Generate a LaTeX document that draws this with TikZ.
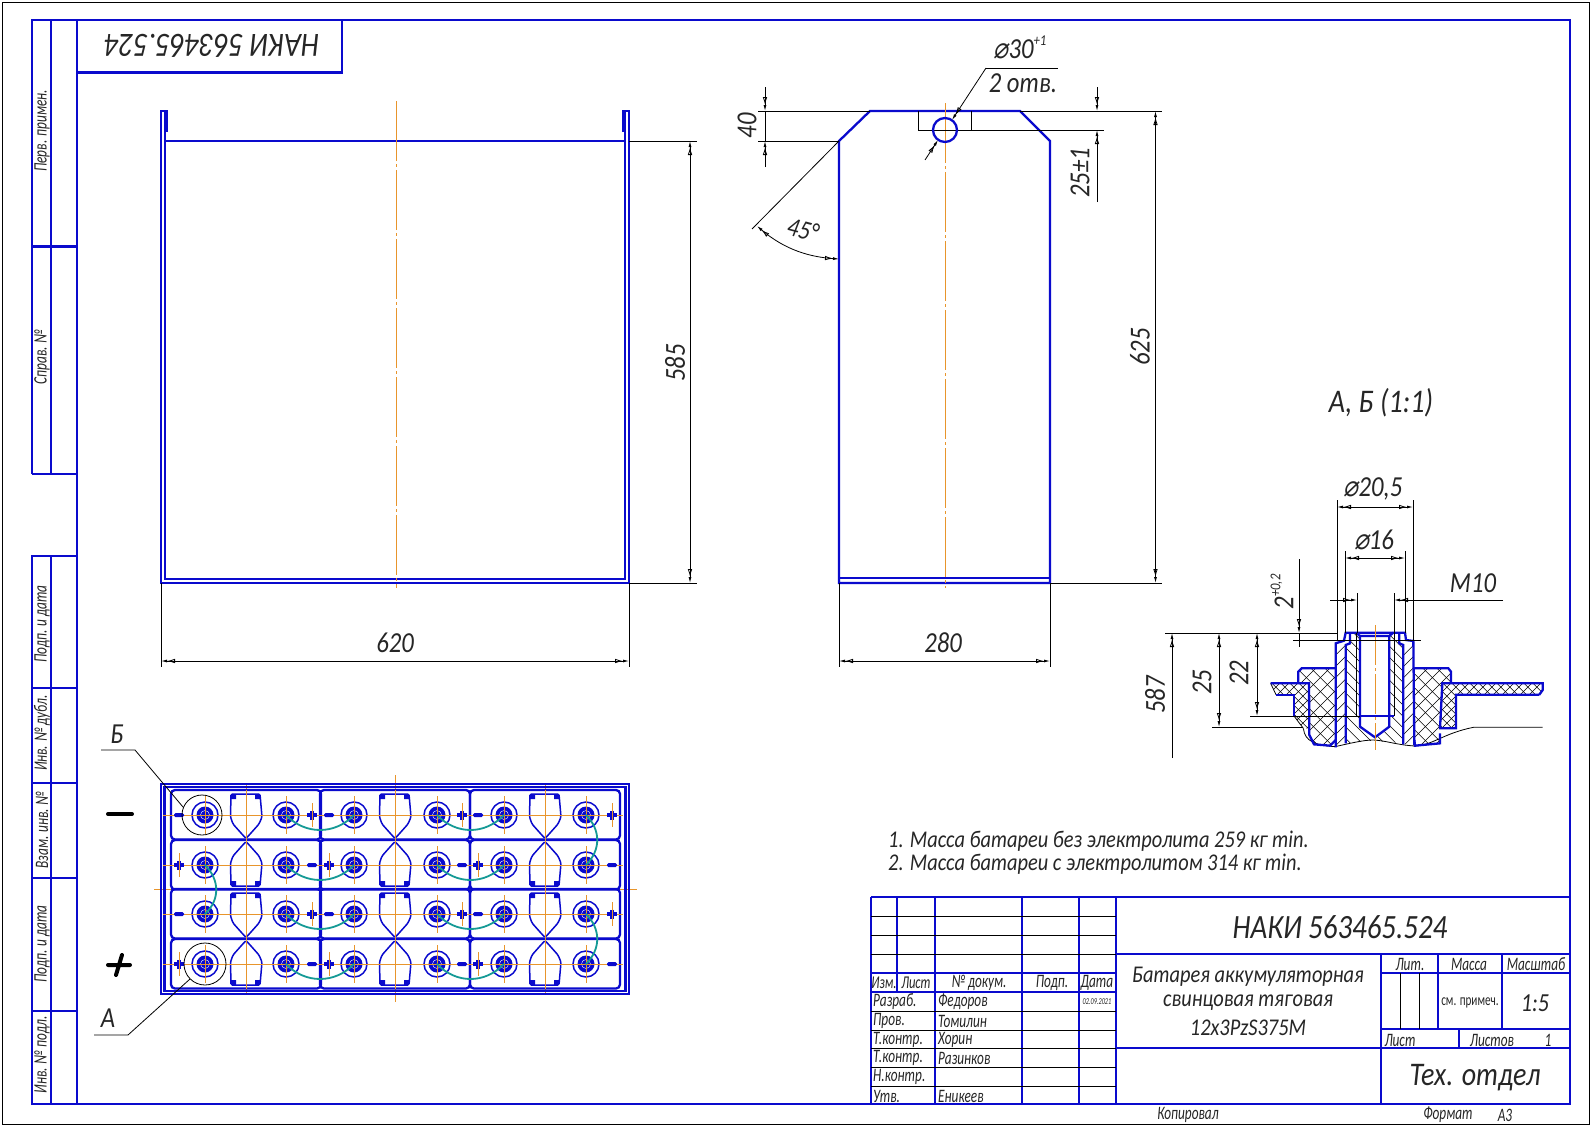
\documentclass[tikz,border=0pt]{standalone}
\usepackage{fontspec}
\setmainfont{Carlito}[FakeStretch=.85]
\newfontfamily\tightcad{Carlito}[FakeStretch=.7]
\newfontfamily\symcad{DejaVu Sans}[FakeSlant=.2,FakeStretch=.85]
\usepackage{tikz}
\usetikzlibrary{arrows.meta,positioning}

\definecolor{cadblue}{HTML}{0A0ACD}
\definecolor{cadaxis}{HTML}{E8952C}
\definecolor{cadteal}{HTML}{159A96}

\newcommand{\dia}{{\symcad\upshape ⌀}}
\newcommand{\supr}[1]{\raisebox{.45em}{\fontsize{15}{15}\selectfont #1}}

\tikzset{
  >={Latex[open,length=8pt,width=4.5pt] Latex[length=6pt,width=3pt]},
  main/.style={draw=cadblue,line width=2.3pt,line join=miter},
  thinb/.style={draw=black,line width=.8pt},
  axis/.style={draw=cadaxis,line width=.8pt},
  axisdash/.style={axis,dash pattern=on 60pt off 3pt on 3pt off 3pt},
  link/.style={draw=cadteal,line width=1.8pt,line cap=round},
  tx/.style={font=\fontsize{#1}{#1}\selectfont\itshape,inner sep=0pt,text=black!85},
  tn/.style={font=\tightcad\fontsize{#1}{#1}\selectfont\itshape,inner sep=0pt,text=black!85},
  dimv/.style={tx=29,rotate=90},
}

% hatching of one closed region of the section, #1 path, #2 spacing
\newcommand{\hatchback}[2]{\begin{scope}\clip #1;
  \foreach \k in {-340,\numexpr-340+#2\relax,...,900} \draw[thinb,line width=.5pt] (\k,0) -- ++(500,500);
  \end{scope}}
\newcommand{\hatchfwd}[2]{\begin{scope}\clip #1;
  \foreach \k in {150,\numexpr150+#2\relax,...,1800} \draw[thinb,line width=.5pt] (\k,0) -- ++(-500,500);
  \end{scope}}

\begin{document}
\begin{tikzpicture}[x=1pt,y=-1pt]
\useasboundingbox[fill=white] (0,0) rectangle (1591,1127);
% sheet
\draw[thinb,line width=1pt] (2.5,2.5) rectangle (1589,1124);
\draw[main] (32,474) -- (32,20) -- (1570,20) -- (1570,1104) -- (32,1104) -- (32,556) -- (77,556);
\draw[main] (77,20) -- (77,1104);
\draw[main] (51,20) -- (51,474) (51,556) -- (51,1104);
\draw[main] (32,246.5) -- (77,246.5) (32,474) -- (77,474);
\foreach \hy in {688,783,878,1011} \draw[main] (32,\hy) -- (77,\hy);
\draw[main] (77,72.5) -- (342,72.5) -- (342,20);
\node[tx=34,rotate=180] (codeflip) at (212,46) {НАКИ 563465.524};
\node[tn=19,rotate=90] (perv) at (42,131) {Перв. примен.};
\node[tn=19,rotate=90] (sprav) at (42,357) {Справ. №};
\node[tn=19,rotate=90] (podp1) at (42,624) {Подп. и дата};
\node[tn=19,rotate=90] (dubl) at (42,733) {Инв. № дубл.};
\node[tn=19,rotate=90] (vzam) at (42,830) {Взам. инв. №};
\node[tn=19,rotate=90] (podp2) at (42,944) {Подп. и дата};
\node[tn=19,rotate=90] (podl) at (42,1055) {Инв. № подл.};

% front view
\draw[main] (161,583) -- (161,111) -- (167,111) -- (167,130.5) -- (165,130.5) -- (165,579) -- (625,579) -- (625,130.5) -- (623,130.5) -- (623,111) -- (629,111) -- (629,583) -- cycle;
\draw[main] (165,111) -- (165,131) (625,111) -- (625,131) (165,141) -- (625,141);
\draw[axisdash] (396,101) -- (396,588);
\draw[thinb] (629,141) -- (697,141) (629,583) -- (697,583) (161,583) -- (161,667) (629,583) -- (629,667);
\draw[thinb,<->] (690,141) -- (690,583);
\draw[thinb,<->] (161,661) -- (629,661);
\node[dimv] (d585) at (675,363) {585};
\node[tx=29] (d620) at (395,643) {620};

% side view
\draw[main] (839,583) -- (839,141) -- (870,111) -- (1020,111) -- (1050,141) -- (1050,583) -- cycle;
\draw[main] (839,578) -- (1050,578);
\draw[axisdash] (945,103) -- (945,588);
\draw[axis] (927,130) -- (963,130);
\draw[thinb] (918,111) -- (918,130) -- (971,130) -- (971,111);
\draw[main] (945,130) circle (12);
\draw[thinb] (758,111) -- (870,111) (758,141) -- (839,141) (1020,111) -- (1162,111) (971,130) -- (1104,130);
\draw[thinb] (839,583) -- (839,667) (1050,583) -- (1050,667) (1050,583) -- (1162,583);
\draw[thinb,->] (765,87) -- (765,111);
\draw[thinb,->] (765,167) -- (765,141);
\draw[thinb] (765,111) -- (765,141);
\draw[thinb,->] (1097,87) -- (1097,111);
\draw[thinb,->] (1097,202) -- (1097,130);
\draw[thinb,<->] (1155.5,111) -- (1155.5,583);
\draw[thinb,<->] (839,661) -- (1050,661);
\draw[thinb] (839,141) -- (752,229);
\draw[thinb,<->] (757,226) .. controls (785,250) and (810,257) .. (839,259);
\draw[thinb,->] (925,160) -- (938,140);
\draw[thinb,->] (986,68) -- (952,120);
\draw[thinb] (986,68) -- (1058,68);
\node[tx=29,rotate=90] (d40) at (747,126) {40};
\node[tx=29,rotate=90] (d25t) at (1080,173) {25±1};
\node[dimv] (d625) at (1140,347) {625};
\node[tx=29] (d280) at (943,643) {280};
\node[tx=27,rotate=-15] (d45) at (803,230) {45°};
\node[tx=29] (dhole) at (1020,47) {\dia 30\supr{+1}};
\node[tx=29] (dholes) at (1023,83) {2 отв.};

% detail A, B
\node[tx=33] (dettitle) at (1381,403) {А, Б (1:1)};
\begin{scope}[shift={(1240,610)},scale=1/3]
  % hatching
  \hatchback{(287,175) -- (185,175) -- (175,185) -- (175,218) -- (207,220) -- (208,375) -- (222,403) -- (270,407) -- (287,390) -- cycle}{42}
  \hatchfwd{(287,175) -- (185,175) -- (175,185) -- (175,218) -- (207,220) -- (208,375) -- (222,403) -- (270,407) -- (287,390) -- cycle}{42}
  \hatchback{(523,175) -- (625,175) -- (633,185) -- (633,218) -- (607,220) -- (600,355) -- (605,370) -- (600,400) -- (525,407) -- (523,390) -- cycle}{42}
  \hatchfwd{(523,175) -- (625,175) -- (633,185) -- (633,218) -- (607,220) -- (600,355) -- (605,370) -- (600,400) -- (525,407) -- (523,390) -- cycle}{42}
  \hatchback{(92,220) -- (207,220) -- (208,355) -- (190,355) -- (162,318) -- (162,254) -- (108,254) -- cycle}{27}
  \hatchfwd{(92,220) -- (207,220) -- (208,355) -- (190,355) -- (162,318) -- (162,254) -- (108,254) -- cycle}{27}
  \hatchback{(607,220) -- (908,220) -- (908,240) -- (898,254) -- (648,254) -- (648,355) -- (600,355) -- cycle}{27}
  \hatchfwd{(607,220) -- (908,220) -- (908,240) -- (898,254) -- (648,254) -- (648,355) -- (600,355) -- cycle}{27}
  \hatchfwd{(287,100) -- (310,92) -- (317,92) -- (317,400) -- (287,410) -- cycle}{34}
  \hatchfwd{(490,105) -- (520,93) -- (523,400) -- (490,403) -- cycle}{34}
  \hatchback{(317,105) -- (330,100) -- (330,68) -- (358,70) -- (358,350) -- (405,382) -- (448,350) -- (448,70) -- (478,68) -- (478,100) -- (490,105) -- (490,400) -- (400,392) -- (317,400) -- cycle}{34}
  % break line
  \draw[thinb] (190,355) .. controls (195,395) and (225,405) .. (285,410) .. controls (330,400) and (370,390) .. (400,390) .. controls (440,392) and (470,405) .. (525,408) .. controls (580,405) and (610,370) .. (700,352) -- (908,352);
  \draw[thinb] (92,220) -- (108,254) (162,318) -- (190,355);
  % outline
  \draw[main] (898,254) -- (908,240) -- (908,220) -- (607,220) -- (600,355) -- (648,355) -- (648,254) -- (898,254);
  \draw[main] (92,220) -- (207,220) -- (208,375) -- (222,403) -- (270,407) -- (287,390);
  \draw[main] (108,254) -- (162,254) -- (162,318);
  \draw[main] (287,175) -- (185,175) -- (175,185) -- (175,218);
  \draw[main] (523,175) -- (625,175) -- (633,185) -- (633,218);
  \draw[main] (287,412) -- (287,100) -- (312,92) -- (317,68) -- (495,68) -- (498,90) -- (520,93) -- (523,405);
  \draw[main] (317,400) -- (317,105) -- (330,100) -- (330,70);
  \draw[main] (490,403) -- (490,105) -- (478,100) -- (478,70);
  \draw[main] (600,370) -- (600,400) -- (525,407) -- (523,390);
  \draw[main] (348,68) -- (360,78) -- (448,78) -- (460,68);
  \draw[main] (360,78) -- (360,350) -- (405,382) -- (448,350) -- (448,78);
  \draw[main] (358,318) -- (462,318);
  \draw[thinb] (350,68) -- (350,318) (462,68) -- (462,318);
  \draw[axis,dash pattern=on 40pt off 3pt on 3pt off 3pt] (405,45) -- (405,420);
\end{scope}
\draw[thinb] (1337,500) -- (1337,640) (1413,500) -- (1413,640) (1345,551) -- (1345,633) (1405,551) -- (1405,633);
\draw[thinb] (1357,593) -- (1357,633) (1394,593) -- (1394,633);
\draw[thinb,<->] (1337,507) -- (1413,507);
\draw[thinb,<->] (1345,558) -- (1405,558);
\draw[thinb,->] (1330,600) -- (1357,600);
\draw[thinb,->] (1503,600) -- (1394,600);
\draw[thinb] (1165,633) -- (1337,633) (1293,640) -- (1421,640) (1212,727) -- (1303,727) (1250,716) -- (1360,716);
\draw[thinb,->] (1299,559) -- (1299,633);
\draw[thinb] (1299,633) -- (1299,647);
\draw[thinb,->] (1172,758) -- (1172,633);
\draw[thinb,<->] (1219,633) -- (1219,727);
\draw[thinb,<->] (1257,633) -- (1257,716);
\node[tx=29] (d205) at (1373,489) {\dia 20,5};
\node[tx=29] (d16) at (1374,540) {\dia 16};
\node[tx=29] (dm10) at (1473,583) {М10};
\node[tx=29,rotate=90] (d2) at (1282,592) {2\supr{+0,2}};
\node[dimv] (d587) at (1155,695) {587};
\node[dimv] (d25) at (1202,682) {25};
\node[dimv] (d22) at (1239,673) {22};

% top view of the battery
\draw[axis] (154,889) -- (637,889) (246,783) -- (246,994) (395,775) -- (395,1002) (545,783) -- (545,994);
\draw[main] (161,784) rectangle (629,994);
\draw[main] (164.5,787) rectangle (625.5,991);
\foreach \cy in {790,840,889,939}
  \foreach \cx in {171,320,470}
    \draw[main,rounded corners=4pt] (\cx,\cy) rectangle ++(150,49.5);
\foreach \ry/\fl in {815/1,865/-1,914/1,964/-1} {
  \foreach \vx in {246,395,545} {
    \draw[main,line width=1.5pt,rounded corners=1.5pt,shift={(\vx,\ry)},yscale=\fl] (-15,-21) -- (14,-21) -- (16,2) -- (13,9) -- (5,18) -- (0,23.5) -- (-5,18) -- (-13,9) -- (-15.5,2) -- cycle;
    \fill[cadblue,shift={(\vx,\ry)},yscale=\fl] (-15,-21) rectangle ++(5,5) (9,-21) rectangle ++(5,5);
    \draw[axis] (\vx,\ry-25) -- (\vx,\ry+25);
  }
  \draw[axis] (163,\ry) -- (623,\ry);
  \foreach \ux in {205,286,354,437,504,586} {
    \draw[main,line width=1.5pt] (\ux,\ry) circle (13);
    \fill[cadblue] (\ux,\ry) circle (8.5);
    \draw[white,line width=.4pt] (\ux,\ry) circle (4.5);
    \draw[axis,line width=.6pt] (\ux,\ry-19) -- (\ux,\ry+19) (\ux-19,\ry) -- (\ux+19,\ry);
  }
}
\foreach \ry/\ax/\bx in {815/179/312,815/329/462,815/478/612,914/179/312,914/329/462,914/478/612,865/312/179,865/462/329,865/612/478,964/312/179,964/462/329,964/612/478} {
  \fill[cadblue,rounded corners=1.5pt] (\ax-5,\ry-2) rectangle (\ax+5,\ry+2);
  \draw[main,line width=3.5pt] (\bx-5,\ry) -- (\bx+5,\ry) (\bx,\ry-4.5) -- (\bx,\ry+4.5);
  \draw[axis] (\bx,\ry-12) -- (\bx,\ry+12);
}
\foreach \ry in {815,865,914,964} {
  \draw[link] (286,\ry) .. controls (305,\ry+20) and (335,\ry+20) .. (354,\ry);
  \draw[link] (437,\ry) .. controls (456,\ry+20) and (485,\ry+20) .. (504,\ry);
}
\draw[link] (205,865) .. controls (220,880) and (220,900) .. (205,914);
\draw[link] (586,815) .. controls (601,830) and (601,850) .. (586,865);
\draw[link] (586,914) .. controls (601,929) and (601,949) .. (586,964);
\draw[thinb] (202,815) circle (20) (205,964) circle (21);
\draw[thinb] (101,750) -- (135,750) -- (183,807);
\draw[thinb] (94,1035) -- (128,1035) -- (190,979);
\node[tx=29] (labb) at (117,734) {Б};
\node[tx=29] (laba) at (108,1018) {А};
\draw[line width=4pt,line cap=round] (108,814) -- (132,814);
\draw[line width=4pt,line cap=round] (108,965) -- (130,965) (122,955) -- (116,975);

% notes
\node[tx=24,anchor=west] (note1) at (888,841) {1. Масса батареи без электролита 259 кг min.};
\node[tx=24,anchor=west] (note2) at (888,864) {2. Масса батареи с электролитом 314 кг min.};

% title block
\draw[main] (871,897) -- (1570,897) (871,897) -- (871,1104);
\draw[main] (897,897) -- (897,992);
\foreach \sx in {935,1022,1079,1116} \draw[main] (\sx,897) -- (\sx,1104);
\foreach \sy in {916,935,954,1011,1030,1048,1067,1086} \draw[thinb] (871,\sy) -- (1116,\sy);
\draw[main] (871,973) -- (1116,973) (871,992) -- (1116,992);
\draw[main] (1116,954) -- (1570,954) (1116,1048) -- (1570,1048);
\draw[main] (1381,954) -- (1381,1104) (1381,973) -- (1570,973) (1381,1029) -- (1570,1029);
\draw[main] (1438,954) -- (1438,1029) (1502,954) -- (1502,1029) (1459,1029) -- (1459,1048);
\draw[thinb] (1400,973) -- (1400,1029) (1419,973) -- (1419,1029);
\node[tn=18] (izm) at (884,983) {Изм.};
\node[tn=18] (list) at (916,983) {Лист};
\node[tn=19] (ndok) at (979,983) {№ докум.};
\node[tn=19] (podp) at (1052,983) {Подп.};
\node[tn=19] (data) at (1097,983) {Дата};
\foreach \pname/\who/\py in {Разраб./Федоров/1002,Пров./Томилин/1021,Т.контр./Хорин/1040,Т.контр./Разинков/1058,Н.контр./{}/1077,Утв./Еникеев/1096} {
  \node[tn=19,anchor=west] at (873,\py) {\pname};
  \node[tn=19,anchor=west] at (938,\py) {\who};
}
\node[tn=9] (date) at (1097,1002) {02.09.2021};
\node[tx=34] (code) at (1340,927) {НАКИ 563465.524};
\node[tx=24] (name1) at (1248,977) {Батарея аккумуляторная};
\node[tx=24] (name2) at (1248,1003) {свинцовая тяговая};
\node[tx=24] (name3) at (1248,1028) {12х3PzS375M};
\node[tn=19] (lit) at (1410,964) {Лит.};
\node[tn=19] (massa) at (1469,964) {Масса};
\node[tn=19] (masht) at (1536,964) {Масштаб};
\node[tn=16,font=\tightcad\fontsize{16}{16}\selectfont\upshape] (prim) at (1470,1003) {см. примеч.};
\node[tx=26] (scale) at (1535,1003) {1:5};
\node[tn=19] (sh) at (1400,1040) {Лист};
\node[tn=19] (shs) at (1492,1040) {Листов};
\node[tn=19] (shn) at (1548,1040) {1};
\node[tx=33] (dept) at (1475,1078) {Тех. отдел};
\node[tn=19] (copied) at (1188,1115) {Копировал};
\node[tn=19] (fmt) at (1448,1115) {Формат};
\node[tn=19] (fmtv) at (1505,1115) {А3};
\end{tikzpicture}
\end{document}
